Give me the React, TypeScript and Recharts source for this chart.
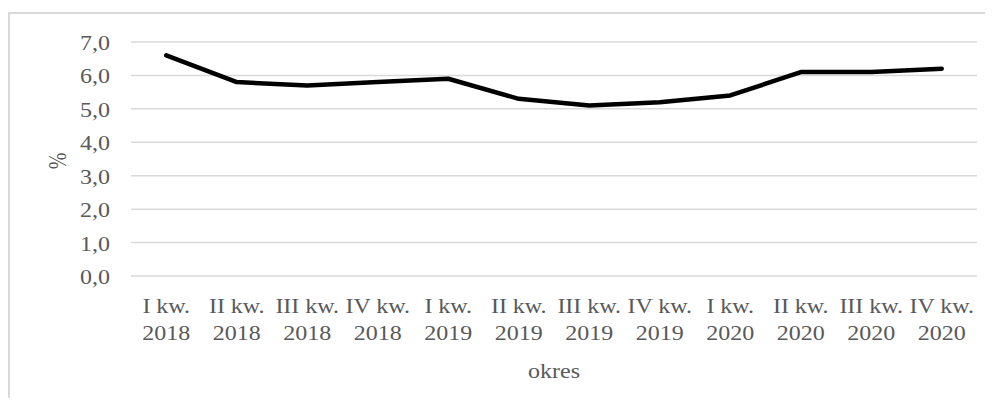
import React from 'react';
import { LineChart, Line, XAxis, YAxis, CartesianGrid } from 'recharts';

const quarters = [
  'I kw. 2018', 'II kw. 2018', 'III kw. 2018', 'IV kw. 2018',
  'I kw. 2019', 'II kw. 2019', 'III kw. 2019', 'IV kw. 2019',
  'I kw. 2020', 'II kw. 2020', 'III kw. 2020', 'IV kw. 2020',
];
const rates = [6.6, 5.8, 5.7, 5.8, 5.9, 5.3, 5.1, 5.2, 5.4, 6.1, 6.1, 6.2];
const yTicks = [0, 1, 2, 3, 4, 5, 6, 7];

const FONT = "'Liberation Serif', 'Times New Roman', serif";
const TEXT = '#595959';
const GRID = '#d9d9d9';

const data = quarters.map((q, i) => ({ okres: q, value: rates[i] }));

// the source image is stretched sideways a bit, so text gets scaleX too
function XTick(props: any) {
  const { x, y, payload } = props;
  const label: string = payload.value;
  const cut = label.lastIndexOf(' ');
  return (
    <g transform={`translate(${x},${y})`}>
      <text transform="scale(1.2,1)" textAnchor="middle" fill={TEXT} fontSize={20} fontFamily={FONT}>
        <tspan x={0} y={37}>{label.slice(0, cut)}</tspan>
        <tspan x={0} y={64}>{label.slice(cut + 1)}</tspan>
      </text>
    </g>
  );
}

function YTick(props: any) {
  const { x, y, payload } = props;
  return (
    <g transform={`translate(${x},${y})`}>
      <text transform="scale(1.2,1)" textAnchor="end" dy={8} fill={TEXT} fontSize={20} fontFamily={FONT}>
        {Number(payload.value).toFixed(1).replace('.', ',')}
      </text>
    </g>
  );
}

function XLabel(props: any) {
  const { viewBox } = props;
  const cx = viewBox.x + viewBox.width / 2;
  return (
    <g transform={`translate(${cx},${viewBox.y + 102})`}>
      <text transform="scale(1.2,1)" textAnchor="middle" fill={TEXT} fontSize={20} fontFamily={FONT}>okres</text>
    </g>
  );
}

function YLabel(props: any) {
  const { viewBox } = props;
  const cy = viewBox.y + viewBox.height / 2;
  return (
    <text
      x={0}
      y={0}
      transform={`translate(${viewBox.x + 58},${cy + 2}) rotate(-90) scale(1,1.25)`}
      textAnchor="middle"
      fill={TEXT}
      fontSize={20}
      fontFamily={FONT}
    >
      %
    </text>
  );
}

export default function App() {
  return (
    <div style={{ position: 'relative', width: 985, height: 390 }}>
      <div
        style={{
          position: 'absolute', left: 0, top: 4, width: 985, height: 386,
          borderTop: `2px solid ${GRID}`, borderLeft: `2px solid ${GRID}`, boxSizing: 'border-box',
        }}
      />
      <LineChart
        width={985}
        height={390}
        data={data}
        margin={{ top: 34, right: 16, left: 0, bottom: 0 }}
        style={{ position: 'absolute', left: 0, top: 0 }}
      >
        <CartesianGrid vertical={false} stroke={GRID} strokeWidth={1.5} />
        <XAxis
          dataKey="okres"
          interval={0}
          height={122}
          axisLine={false}
          tickLine={false}
          tickSize={0}
          tickMargin={0}
          padding={{ left: 35.25, right: 35.25 }}
          tick={<XTick />}
          label={<XLabel />}
        />
        <YAxis
          width={123}
          domain={[0, 7]}
          ticks={yTicks}
          interval={0}
          axisLine={false}
          tickLine={false}
          tickSize={0}
          tickMargin={21}
          tick={<YTick />}
          label={<YLabel />}
        />
        <Line
          type="linear"
          dataKey="value"
          stroke="#000000"
          strokeWidth={4.5}
          strokeLinecap="round"
          strokeLinejoin="round"
          dot={false}
          isAnimationActive={false}
        />
      </LineChart>
    </div>
  );
}
